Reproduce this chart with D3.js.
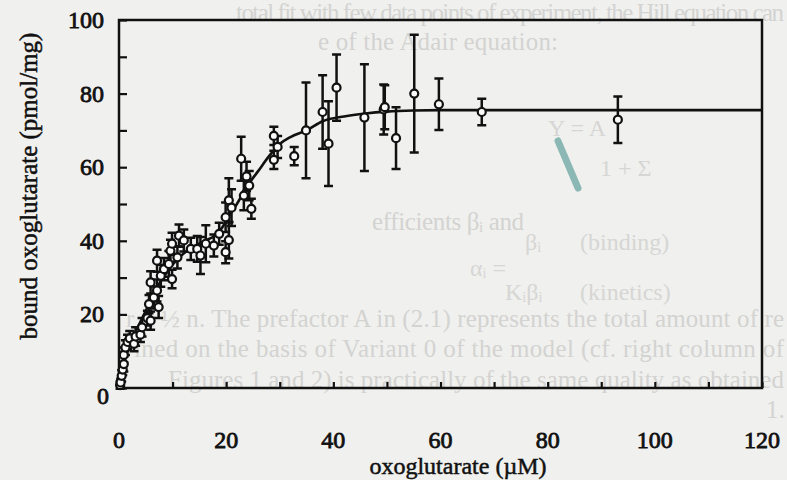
<!DOCTYPE html>
<html>
<head>
<meta charset="utf-8">
<script src="https://cdn.jsdelivr.net/npm/d3@7"></script>
<style>
  body { margin: 0; background: #f0f0ee; }
  svg { display: block; }
</style>
</head>
<body>
<div id="root"></div>
<script>
// measured points: concentration (uM), bound (pmol/mg), error bar half-length
const concUM = [0.2, 0.3, 0.5, 0.7, 0.9, 0.9, 1.2, 1.6, 2.0, 2.8, 3.1, 4.0, 4.3, 5.3, 5.6, 5.9,
  6.5, 5.9, 7.1, 7.4, 7.8, 7.1, 8.4, 9.3, 9.9, 9.6, 9.9, 10.9, 11.2, 12.1, 13.4, 14.6, 15.2,
  16.2, 17.7, 18.7, 19.9, 20.5, 20.5, 21.0, 19.9, 22.8, 23.3, 23.8, 24.3, 24.7, 28.9, 29.6,
  28.9, 32.7, 34.9, 38.0, 39.1, 40.6, 45.8, 49.4, 49.6, 51.7, 55.1, 59.7, 67.7, 93.1];
const boundPM = [0.8, 1.5, 3.3, 5, 6.5, 9, 11, 12.5, 13.5, 12, 14, 14.5, 16.5, 19, 22.8, 18.3,
  24.6, 28.7, 26.5, 22, 30.5, 34.6, 32.3, 33.7, 29.6, 37.3, 39.2, 35.5, 41.4, 40.1, 37.8, 37.8, 36,
  39.2, 38.7, 41.9, 36.9, 40.2, 51, 49, 46.4, 62.3, 52.3, 57.5, 55, 48.7, 68.5, 65.5,
  62, 63, 70, 75, 66.4, 81.6, 73.5, 75.7, 76.3, 67.9, 80, 77.1, 75, 72.9];
const errPM = [1, 1, 1.5, 1.5, 2, 2, 2, 2, 2, 2, 2.5, 2, 2.5, 2, 2.5, 2.5,
  3, 3, 3, 3, 3, 3, 3, 3.5, 2.5, 3, 3, 3, 3, 3, 3, 3.5, 5,
  5, 3, 3, 3, 5, 6, 5, 4, 6, 4, 4, 4, 2.7, 2.5, 3,
  2.5, 2.5, 13, 10, 11.5, 9, 14.5, 6.8, 6, 8.4, 16, 7, 3.6, 6.3];

// fitted curve
const fitX = [0, 1, 2, 3, 4, 5, 6, 7, 8, 9, 10, 12, 14, 16, 18, 19.3, 20, 22, 24, 26, 28, 30,
  32, 35, 38, 42, 46, 50, 55, 60, 120];
const fitY = [0, 7, 11.5, 15, 18, 21, 24, 27, 29.5, 31.5, 33.5, 36.5, 38.5, 40, 41.5, 43.7, 45.5,
  50, 55, 59, 63, 66.3, 68.2, 70, 72.5, 73.8, 74.6, 75.1, 75.4, 75.5, 75.5];

const xTicks = [0, 20, 40, 60, 80, 100, 120];
const yTicks = [0, 20, 40, 60, 80, 100];

// faint text showing through from the page
const ghostLines = [
  "total fit with few data points of experiment, the Hill equation can",
  "e of the Adair equation:",
  "efficients \u03b2\u1d62 and",
  "r \u2264 \u00bd n. The prefactor A in (2.1) represents the total amount of re",
  "ined on the basis of Variant 0 of the model (cf. right column of",
  "Figures 1 and 2) is practically of the same quality as obtained",
  "1."
];
const ghostX = [236, 318, 372, 126, 134, 168, 766];
const ghostY = [21, 50, 230, 327, 357, 388, 418];
const ghostLen = [548, 240, 152, 658, 650, 616, 0];

const width = 787;
const height = 480;
const margin = { left: 119, right: 25, top: 20, bottom: 92 };
const serif = "'Liberation Serif', 'Times New Roman', serif";

let svg = d3
  .select("#root")
  .append("svg")
  .attr("width", width)
  .attr("height", height);

svg.append("rect").attr("width", width).attr("height", height).style("fill", "#f0f0ee");

svg
  .append("g")
  .selectAll("text")
  .data(ghostLines)
  .enter()
  .append("text")
  .attr("x", (d, i) => ghostX[i])
  .attr("y", (d, i) => ghostY[i])
  .attr("textLength", (d, i) => (ghostLen[i] ? ghostLen[i] : null))
  .attr("lengthAdjust", "spacing")
  .style("font-family", serif)
  .style("font-size", "25px")
  .style("fill", "#d3d3d1")
  .text((d) => d);

let ghostG = svg.append("g").style("font-family", serif).style("fill", "#d6d6d4").style("font-size", "24px");
ghostG.append("text").attr("x", 548).attr("y", 136).text("Y = A");
ghostG.append("text").attr("x", 600).attr("y", 176).text("1 + \u03a3");
ghostG.append("text").attr("x", 470).attr("y", 276).text("\u03b1\u1d62 =");
ghostG.append("text").attr("x", 525).attr("y", 250).text("\u03b2\u1d62");
ghostG.append("text").attr("x", 580).attr("y", 250).text("(binding)");
ghostG.append("text").attr("x", 505).attr("y", 300).text("K\u1d62\u03b2\u1d62");
ghostG.append("text").attr("x", 580).attr("y", 300).text("(kinetics)");

// pen stroke on the scan
svg
  .append("line")
  .attr("x1", 558)
  .attr("y1", 141)
  .attr("x2", 578)
  .attr("y2", 188)
  .style("stroke", "#6aa6a2")
  .style("stroke-width", 7)
  .style("stroke-linecap", "round")
  .style("opacity", 0.75);

let xScale = d3
  .scaleLinear()
  .domain([0, 120])
  .range([margin.left, width - margin.right]);
let yScale = d3
  .scaleLinear()
  .domain([0, 100])
  .range([height - margin.bottom, margin.top]);

let plot = svg.append("g");

// frame
plot
  .append("rect")
  .attr("x", xScale(0))
  .attr("y", yScale(100))
  .attr("width", xScale(120) - xScale(0))
  .attr("height", yScale(0) - yScale(100))
  .style("fill", "none")
  .style("stroke", "#111")
  .style("stroke-width", 2.5);

// inward ticks every 10
let xAxis = d3.axisBottom(xScale).ticks(12).tickSize(-6).tickFormat("");
let yAxis = d3.axisLeft(yScale).ticks(10).tickSize(-8).tickFormat("");

plot
  .append("g")
  .attr("transform", "translate(0," + yScale(0) + ")")
  .call(xAxis)
  .call((g) => g.select(".domain").remove())
  .selectAll("line")
  .style("stroke", "#111")
  .style("stroke-width", 2.2);

plot
  .append("g")
  .attr("transform", "translate(" + xScale(0) + ",0)")
  .call(yAxis)
  .call((g) => g.select(".domain").remove())
  .selectAll("line")
  .style("stroke", "#111")
  .style("stroke-width", 2.2);

// tick labels
svg
  .append("g")
  .selectAll("text")
  .data(xTicks)
  .enter()
  .append("text")
  .attr("x", (d) => xScale(d))
  .attr("y", yScale(0) + 60)
  .attr("text-anchor", "middle")
  .style("font-family", serif)
  .style("font-size", "24px")
  .style("fill", "#111")
  .style("stroke", "#111")
  .style("stroke-width", 0.8)
  .text((d) => d);

svg
  .append("g")
  .selectAll("text")
  .data(yTicks)
  .enter()
  .append("text")
  .attr("x", (d) => (d === 0 ? xScale(0) - 10 : xScale(0) - 15))
  .attr("y", (d) => (d === 0 ? yScale(d) + 16 : yScale(d) + 8))
  .attr("text-anchor", "end")
  .style("font-family", serif)
  .style("font-size", "24px")
  .style("fill", "#111")
  .style("stroke", "#111")
  .style("stroke-width", 0.8)
  .text((d) => d);

// axis titles
svg
  .append("text")
  .attr("x", 458)
  .attr("y", 474)
  .attr("text-anchor", "middle")
  .style("font-family", serif)
  .style("font-size", "24px")
  .style("fill", "#111")
  .style("stroke", "#111")
  .style("stroke-width", 0.5)
  .text("oxoglutarate (\u00b5M)");

svg
  .append("text")
  .attr("transform", "rotate(-90)")
  .attr("x", -186)
  .attr("y", 37)
  .attr("text-anchor", "middle")
  .style("font-family", serif)
  .style("font-size", "25px")
  .style("fill", "#111")
  .style("stroke", "#111")
  .style("stroke-width", 0.5)
  .text("bound oxoglutarate (pmol/mg)");

// fitted curve
let fitLine = d3
  .line()
  .x((d, i) => xScale(fitX[i]))
  .y((d) => yScale(d))
  .curve(d3.curveMonotoneX);

plot
  .append("path")
  .datum(fitY)
  .attr("d", fitLine)
  .style("fill", "none")
  .style("stroke", "#111")
  .style("stroke-width", 2.6);

// error bars
let bars = plot.append("g").style("stroke", "#111").style("stroke-width", 2.5);
let capHalf = 4.5;

bars
  .selectAll(".eb")
  .data(boundPM)
  .enter()
  .append("path")
  .attr("class", "eb")
  .attr("d", function (d, i) {
    let x = xScale(concUM[i]);
    let y1 = yScale(d + errPM[i]);
    let y2 = yScale(d - errPM[i]);
    return (
      "M" + x + "," + y1 + "V" + y2 +
      "M" + (x - capHalf) + "," + y1 + "H" + (x + capHalf) +
      "M" + (x - capHalf) + "," + y2 + "H" + (x + capHalf)
    );
  })
  .style("fill", "none");

// open circles
plot
  .append("g")
  .selectAll("circle")
  .data(boundPM)
  .enter()
  .append("circle")
  .attr("cx", (d, i) => xScale(concUM[i]))
  .attr("cy", (d) => yScale(d))
  .attr("r", 4)
  .style("fill", "#fafafa")
  .style("stroke", "#111")
  .style("stroke-width", 2.2);
</script>
</body>
</html>
